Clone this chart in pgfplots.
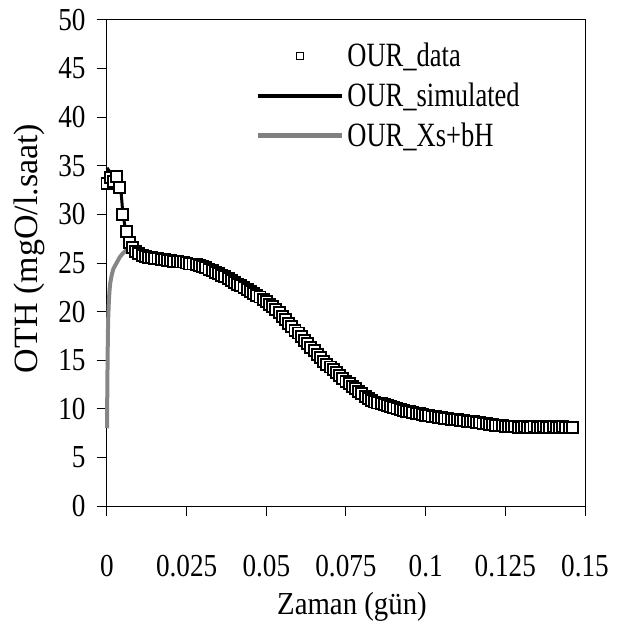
\documentclass[border=0pt]{standalone}
\usepackage{pgfplots}
\usepackage{pgfplotstable}
\pgfplotsset{compat=1.18}
\usepackage{fontspec}
\setmainfont{Liberation Serif}
\newfontfamily\tickf[FakeStretch=0.85]{Liberation Serif}
\newfontfamily\labf[FakeStretch=0.9]{Liberation Serif}
\newfontfamily\legf[FakeStretch=0.78]{Liberation Serif}
\pgfplotstableread{
x y
0.000 33.2
0.001 33.8
0.002 33.4
0.003 33.9
0.004 32.8
0.005 30.0
0.006 28.2
0.007 27.1
0.008 26.6
0.009 26.2
0.010 26.0
0.011 25.8
0.012 25.7
0.013 25.6
0.014 25.6
0.015 25.5
0.016 25.5
0.017 25.4
0.018 25.4
0.019 25.3
0.020 25.3
0.021 25.2
0.022 25.2
0.023 25.1
0.024 25.1
0.025 25.0
0.026 24.9
0.027 24.9
0.028 24.8
0.029 24.7
0.030 24.6
0.031 24.5
0.032 24.3
0.033 24.2
0.034 24.0
0.035 23.9
0.036 23.7
0.037 23.6
0.038 23.4
0.039 23.2
0.040 23.0
0.041 22.8
0.042 22.7
0.043 22.5
0.044 22.3
0.045 22.1
0.046 21.9
0.047 21.7
0.048 21.5
0.049 21.2
0.050 21.0
0.051 20.7
0.052 20.5
0.053 20.2
0.054 19.9
0.055 19.5
0.056 19.2
0.057 18.8
0.058 18.5
0.059 18.1
0.060 17.8
0.061 17.4
0.062 17.0
0.063 16.7
0.064 16.3
0.065 16.0
0.066 15.6
0.067 15.3
0.068 14.9
0.069 14.6
0.070 14.3
0.071 14.0
0.072 13.7
0.073 13.4
0.074 13.1
0.075 12.8
0.076 12.6
0.077 12.3
0.078 12.1
0.079 11.8
0.080 11.6
0.081 11.3
0.082 11.1
0.083 10.9
0.084 10.7
0.085 10.6
0.086 10.5
0.087 10.4
0.088 10.3
0.089 10.2
0.090 10.1
0.091 10.0
0.092 9.9
0.093 9.8
0.094 9.7
0.095 9.7
0.096 9.6
0.097 9.5
0.098 9.5
0.099 9.4
0.100 9.3
0.101 9.3
0.102 9.2
0.103 9.2
0.104 9.1
0.105 9.1
0.106 9.0
0.107 9.0
0.108 8.9
0.109 8.9
0.110 8.9
0.111 8.8
0.112 8.8
0.113 8.7
0.114 8.7
0.115 8.7
0.116 8.6
0.117 8.6
0.118 8.5
0.119 8.5
0.120 8.4
0.121 8.4
0.122 8.3
0.123 8.3
0.124 8.3
0.125 8.2
0.126 8.2
0.127 8.2
0.128 8.2
0.129 8.1
0.130 8.1
0.131 8.2
0.132 8.1
0.133 8.1
0.134 8.2
0.135 8.1
0.136 8.1
0.137 8.2
0.138 8.1
0.139 8.1
0.140 8.2
0.141 8.1
0.142 8.1
0.143 8.2
0.144 8.1
0.145 8.1
0.146 8.1
}\ourdata
\pgfplotstableread{
x y
0.0000 34.8
0.0010 34.3
0.0020 34.0
0.0030 33.7
0.0040 33.2
0.0045 32.0
0.0050 30.0
0.0060 28.1
0.0070 27.1
0.0080 26.6
0.0100 26.0
0.0150 25.5
0.0200 25.3
0.0250 25.0
0.0300 24.6
0.0350 23.9
0.0400 23.0
0.0450 22.1
0.0500 21.0
0.0550 19.5
0.0600 17.8
0.0650 16.0
0.0700 14.3
0.0750 12.8
0.0800 11.6
0.0850 10.6
0.0900 10.1
0.0950 9.7
0.1000 9.3
0.1050 9.1
0.1100 8.9
0.1150 8.7
0.1200 8.4
0.1250 8.2
0.1300 8.1
0.1400 8.1
0.1460 8.1
}\oursim
\pgfplotstableread{
x y
0.0000 8.0
0.0001 12.0
0.0002 15.5
0.0003 18.0
0.0004 19.5
0.0006 21.2
0.0008 22.2
0.0010 22.9
0.0015 23.8
0.0020 24.4
0.0030 25.0
0.0040 25.6
0.0050 26.0
0.0060 26.3
0.0070 26.5
0.0080 26.5
0.0100 26.0
0.0120 25.7
}\ourxs
\begin{document}
\begin{tikzpicture}[x=1pt,y=1pt]
\useasboundingbox (-107,-124) rectangle (517,506);
\begin{axis}[
  at={(0,0)}, anchor=south west,
  width=478pt, height=486pt, scale only axis,
  xmin=0, xmax=0.15, ymin=0, ymax=50,
  clip=false,
  xtick={0,0.025,0.05,0.075,0.1,0.125,0.15},
  xticklabels={0,0.025,0.05,0.075,0.1,0.125,0.15},
  ytick={0,5,10,15,20,25,30,35,40,45,50},
  tick align=outside, tick pos=left, major tick length=10pt,
  every tick/.style={black, line width=1pt},
  axis line style={black, line width=1pt},
  /pgf/number format/assume math mode=true,
  tick label style={font=\tickf\fontsize{32}{32}\selectfont},
  xticklabel shift=36pt, yticklabel shift=8pt,
  xlabel={Zaman (gün)},
  xlabel style={at={(axis description cs:0.5125,-0.208)}, anchor=center, font=\labf\fontsize{32}{32}\selectfont},
  ylabel={OTH (mgO/l.saat)},
  ylabel style={at={(axis description cs:-0.163,0.53)}, anchor=center, font=\fontsize{34}{34}\selectfont},
  legend image code/.code={\draw[mark repeat=2,mark phase=2,#1] plot coordinates {(0pt,0pt) (42pt,0pt) (84pt,0pt)};},
  legend cell align=left,
  legend style={at={(axis description cs:0.310,0.955)}, anchor=north west, draw=none, fill=none, inner sep=0pt,
    font=\legf\fontsize{34}{34}\selectfont, row sep=13pt,
    nodes={inner xsep=3pt, inner ysep=1pt}},
]
\addplot[color=gray!95, line width=4pt, forget plot] table[x=x,y=y] {\ourxs};
\addplot[color=black, line width=3pt, forget plot] table[x=x,y=y] {\oursim};
\addplot[only marks, mark=square*, mark size=5.5pt, mark options={draw=black, fill=white, line width=1.9pt}, forget plot] table[x=x,y=y] {\ourdata};
\addlegendimage{only marks, mark=square*, mark size=3.5pt, mark options={draw=black, fill=white, line width=1.1pt}}
\addlegendentry{OUR\_data}
\addlegendimage{black, line width=4pt}
\addlegendentry{OUR\_simulated}
\addlegendimage{gray, line width=5pt}
\addlegendentry{OUR\_Xs+bH}
\end{axis}
\end{tikzpicture}
\end{document}
